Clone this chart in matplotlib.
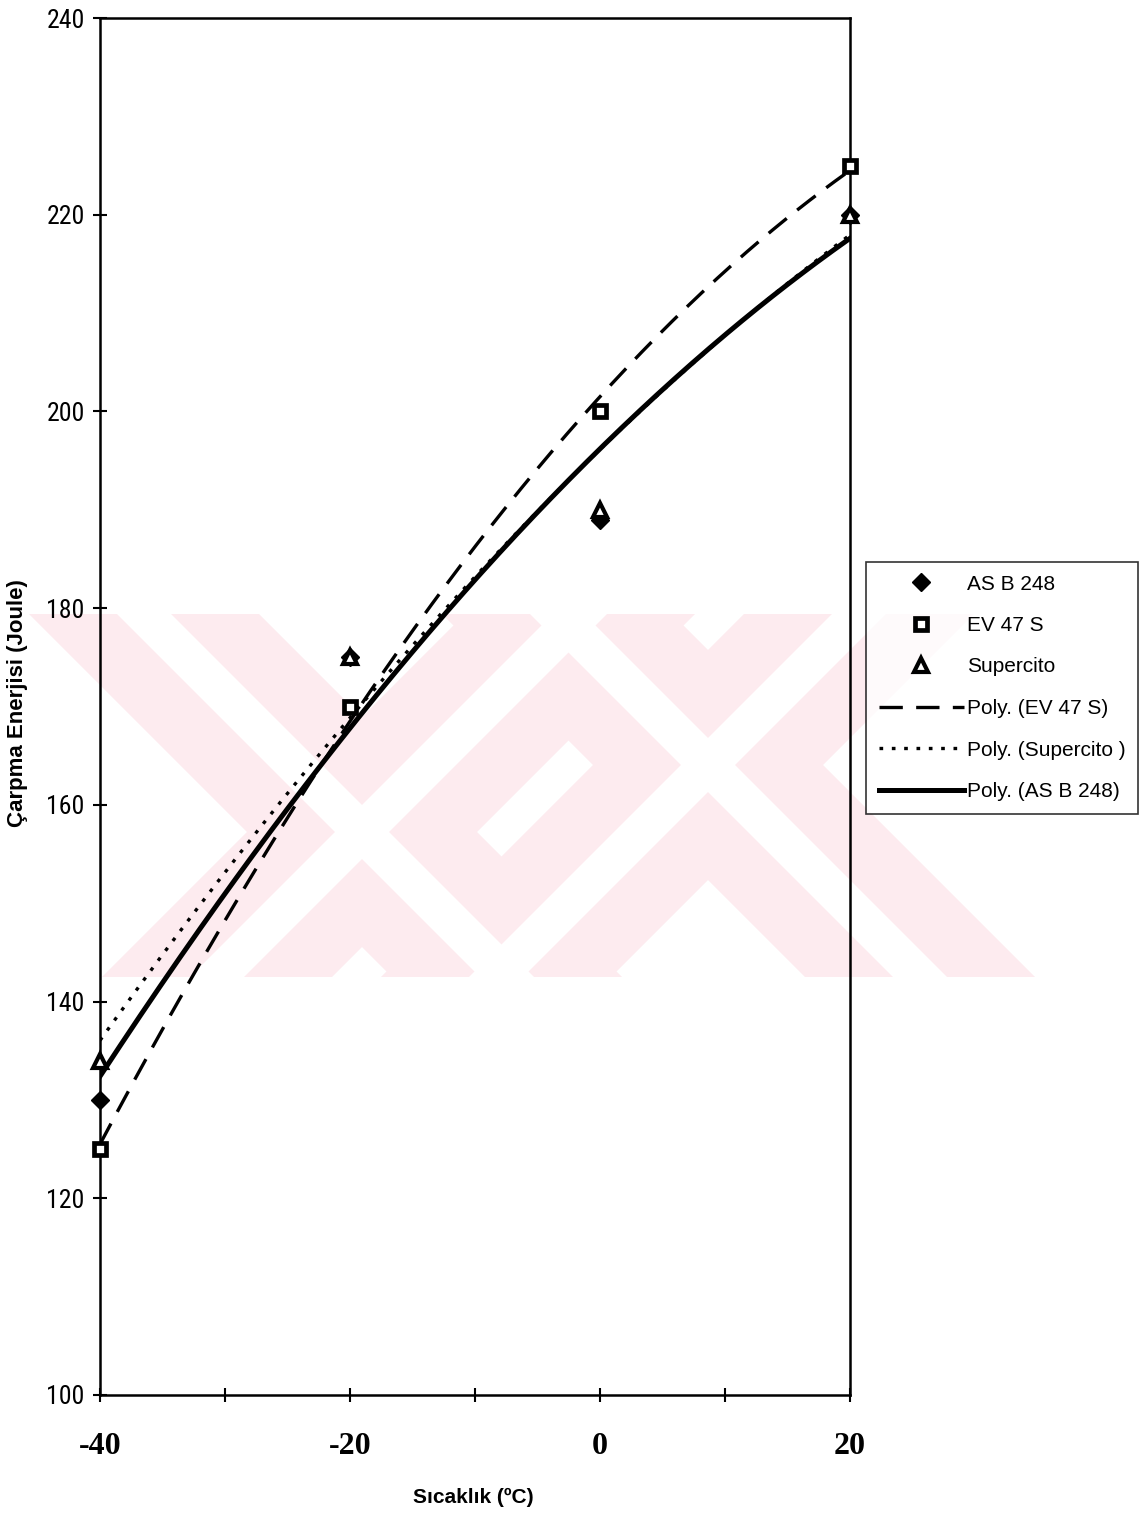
import numpy as np
import matplotlib
matplotlib.use('Agg')
import matplotlib.pyplot as plt
from matplotlib.lines import Line2D
from matplotlib.patches import Polygon

# ---- data ----
temps = [-40, -20, 0, 20]
as_b_248 = [130, 175, 189, 220]
ev_47_s = [125, 170, 200, 225]
supercito = [134, 175, 190, 220]
y_ticks = [100, 120, 140, 160, 180, 200, 220, 240]
x_ticks = [-40, -30, -20, -10, 0, 10, 20]
x_ticklabels = ['-40', '', '-20', '', '0', '', '20']
series_labels = ['AS B 248', 'EV 47 S', 'Supercito']
trend_labels = ['Poly. (EV 47 S)', 'Poly. (Supercito )', 'Poly. (AS B 248)']

W, H = 1142, 1514
fig = plt.figure(figsize=(W / 100, H / 100), dpi=100)
fig.patch.set_facecolor('white')


def fp(x, y):
    return (x / W, 1 - y / H)


# ---- faint watermark (scan background) ----
pink = '#fdebef'
wm_top, wm_bot = 614, 977


def band(cx, cy, sign, hw, color):
    ct = cx + sign * (wm_top - cy)
    cb = cx + sign * (wm_bot - cy)
    pts = [fp(ct - hw, wm_top), fp(ct + hw, wm_top), fp(cb + hw, wm_bot), fp(cb - hw, wm_bot)]
    fig.patches.append(Polygon(pts, closed=True, transform=fig.transFigure,
                               facecolor=color, edgecolor='none', zorder=-2))


centers = [(362, 832), (708, 765)]
for cx, cy in centers:
    for s in (1, -1):
        band(cx, cy, s, 115, pink)
for cx, cy in centers:
    for s in (1, -1):
        band(cx, cy, s, 27, 'white')

# ---- axes ----
ax = fig.add_axes([100 / W, 1 - 1395 / H, 750 / W, 1377 / H])
ax.patch.set_alpha(0)
ax.set_xlim(-40, 20)
ax.set_ylim(100, 240)

xs = np.linspace(-40, 20, 300)

mk_as = dict(linestyle='none', marker='D', ms=9, color='black')
mk_ev = dict(linestyle='none', marker='s', ms=8.5, mfc='white', mec='black', mew=3.4)
mk_su = dict(linestyle='none', marker='^', ms=10, mfc='white', mec='black', mew=3.0)

# markers
ax.plot(temps, as_b_248, clip_on=False, zorder=3, **mk_as)
ax.plot(temps, ev_47_s, clip_on=False, zorder=3, **mk_ev)
ax.plot(temps, supercito, clip_on=False, zorder=3, **mk_su)

# polynomial (2nd order) trend lines
ln_ev = dict(color='black', lw=2.4, dashes=(7, 4))
ln_su = dict(color='black', lw=2.4, dashes=(1.1, 2.6))
ln_as = dict(color='black', lw=3.6)
c_ev = np.polyfit(temps, ev_47_s, 2)
c_su = np.polyfit(temps, supercito, 2)
c_as = np.polyfit(temps, as_b_248, 2)
ax.plot(xs, np.polyval(c_ev, xs), zorder=4, **ln_ev)
ax.plot(xs, np.polyval(c_su, xs), zorder=4, **ln_su)
ax.plot(xs, np.polyval(c_as, xs), zorder=4, **ln_as)

# spines & ticks
for sp in ax.spines.values():
    sp.set_linewidth(1.8)
    sp.set_color('black')

ax.set_yticks(y_ticks)
ax.set_yticklabels([str(v) for v in y_ticks],
                   fontfamily=['Liberation Sans Narrow', 'Roboto Condensed',
                               'Liberation Sans', 'DejaVu Sans'],
                   fontsize=18.5)
ax.set_xticks(x_ticks)
ax.set_xticklabels(x_ticklabels, fontfamily=['Liberation Serif', 'DejaVu Serif'],
                   fontweight='bold', fontsize=23)
ax.tick_params(axis='both', direction='inout', length=10, width=1.5, color='black')
ax.tick_params(axis='y', pad=6)
ax.tick_params(axis='x', pad=22)

# axis titles
fig.text(18 / W, 1 - 703 / H, 'Çarpma Enerjisi (Joule)', rotation=90,
         ha='center', va='center', fontsize=16, fontweight='bold',
         fontfamily=['Liberation Sans', 'DejaVu Sans'])
fig.text(473 / W, 1 - 1497 / H, 'Sıcaklık (ºC)', ha='center', va='center',
         fontsize=15, fontweight='bold', fontfamily=['Liberation Sans', 'DejaVu Sans'])

# legend
handles = [
    Line2D([], [], **mk_as),
    Line2D([], [], **mk_ev),
    Line2D([], [], **mk_su),
    Line2D([], [], **ln_ev),
    Line2D([], [], **ln_su),
    Line2D([], [], **ln_as),
]
leg = fig.legend(handles, series_labels + trend_labels,
                 loc='upper left', bbox_to_anchor=fp(866, 562),
                 bbox_transform=fig.transFigure, borderaxespad=0,
                 prop={'family': ['Liberation Sans', 'DejaVu Sans'], 'size': 15},
                 handlelength=4.1, handletextpad=0.15, labelspacing=1.08,
                 borderpad=0.6, fancybox=False, shadow=False, frameon=True)
leg.get_frame().set_edgecolor('black')
leg.get_frame().set_linewidth(1.2)

fig.savefig('out.png', dpi=100, facecolor='white')
